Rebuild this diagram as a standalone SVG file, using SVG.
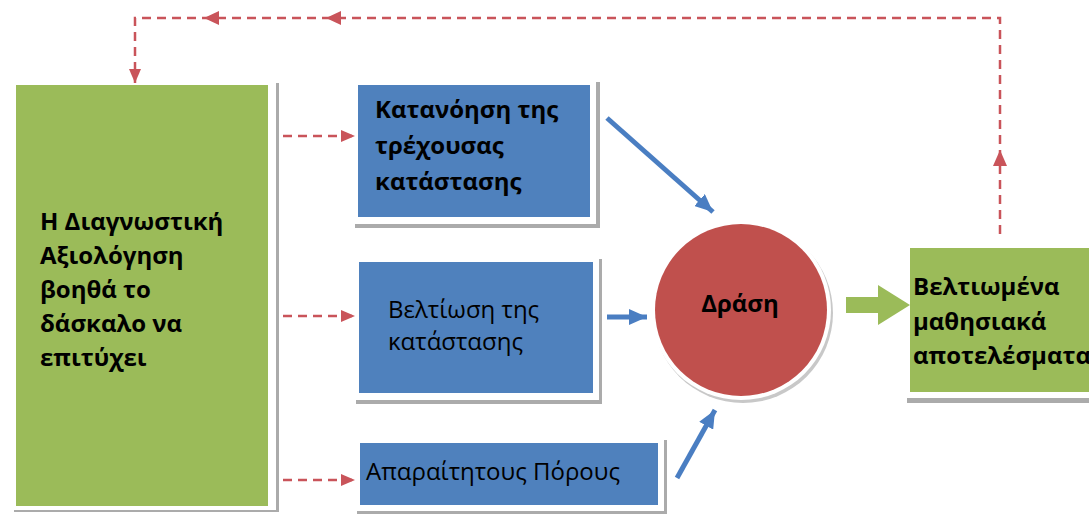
<svg xmlns="http://www.w3.org/2000/svg" width="1089" height="515" viewBox="0 0 1089 515">
<defs>
<marker id="rh" markerUnits="userSpaceOnUse" viewBox="0 0 14 14" refX="14" refY="7" markerWidth="14" markerHeight="14" orient="auto"><path d="M0,1 L14,7 L0,13 z" fill="#C9545A"/></marker>
<marker id="bh" markerUnits="userSpaceOnUse" viewBox="0 0 18 16" refX="18" refY="8" markerWidth="18" markerHeight="16" orient="auto"><path d="M0,0 L18,8 L0,16 z" fill="#4A7EC2"/></marker>
</defs>
<style>
.dash{fill:none;stroke:#C9545A;stroke-width:2.5;stroke-dasharray:9 6}
.rh{fill:#C9545A}
.barrow{fill:none;stroke:#4A7EC2;stroke-width:5}
.blue{fill:#4F81BD}
.green{fill:#9BBB59}
.shadow{fill:#ABABAB}
.frame{fill:#FFFFFF}
.t{font-family:"Open Sans","Noto Sans",sans-serif;font-size:24px;fill:#000}
.b{font-weight:bold}
</style>
<rect width="1089" height="515" fill="#FFFFFF"/>

<g id="diagnostic">
<rect class="shadow" x="14" y="83" width="265" height="429"/>
<rect class="frame" x="10" y="79" width="266" height="431"/>
<rect class="green" x="16" y="85" width="252" height="421"/>
<text class="t b" x="40"><tspan x="40" y="230">Η Διαγνωστική</tspan><tspan x="40" y="264">Αξιολόγηση</tspan><tspan x="40" y="298">βοηθά το</tspan><tspan x="40" y="332">δάσκαλο να</tspan><tspan x="40" y="366">επιτύχει</tspan></text>
</g>

<g id="understanding">
<rect class="shadow" x="355" y="82" width="245" height="146"/>
<rect class="frame" x="352" y="79" width="244" height="145"/>
<rect class="blue" x="358" y="85" width="232" height="132"/>
<text class="t b"><tspan x="375" y="118">Κατανόηση της</tspan><tspan x="375" y="154">τρέχουσας</tspan><tspan x="375" y="190">κατάστασης</tspan></text>
</g>

<g id="improvement">
<rect class="shadow" x="356" y="259" width="246" height="145"/>
<rect class="frame" x="353" y="256" width="246" height="144"/>
<rect class="blue" x="359" y="262" width="234" height="131"/>
<text class="t"><tspan x="388" y="318">Βελτίωση της</tspan><tspan x="388" y="350">κατάστασης</tspan></text>
</g>

<g id="resources">
<rect class="shadow" x="357" y="440" width="310" height="74"/>
<rect class="frame" x="354" y="437" width="310" height="74"/>
<rect class="blue" x="360" y="443" width="298" height="62"/>
<text class="t" x="366" y="480">Απαραίτητους Πόρους</text>
</g>

<g id="action">
<circle cx="743" cy="313" r="90" fill="#C8C8C8"/>
<circle cx="741" cy="310" r="90" fill="#FFFFFF"/>
<circle cx="741" cy="310" r="86" fill="#C0504D"/>
<text class="t b" x="740" y="312" text-anchor="middle">Δράση</text>
</g>

<g id="results">
<rect class="shadow" x="907" y="245" width="182" height="158"/>
<rect class="frame" x="904" y="242" width="185" height="156"/>
<rect class="green" x="910" y="248" width="179" height="144"/>
<text class="t b"><tspan x="913" y="295">Βελτιωμένα</tspan><tspan x="913" y="330">μαθησιακά</tspan><tspan x="913" y="364">αποτελέσματα</tspan></text>
</g>

<g id="connectors">
<path class="dash" d="M283,136 H355" marker-end="url(#rh)"/>
<path class="dash" d="M283,316 H355" marker-end="url(#rh)"/>
<path class="dash" d="M283,480 H355" marker-end="url(#rh)"/>
<path class="dash" d="M1000,234 V18 H135 V83" marker-end="url(#rh)"/>
<polygon class="rh" points="1000,150 993,166 1007,166"/>
<polygon class="rh" points="204,18 219,11 219,25"/>
<polygon class="rh" points="326,18 341,11 341,25"/>
<path class="barrow" d="M607,118 L713,212" marker-end="url(#bh)"/>
<path class="barrow" d="M607,317 L647,317" marker-end="url(#bh)"/>
<path class="barrow" d="M677,478 L715,410" marker-end="url(#bh)"/>
<polygon class="green" points="846,297 878,297 878,285 910,305 878,325 878,313 846,313"/>
</g>
</svg>
